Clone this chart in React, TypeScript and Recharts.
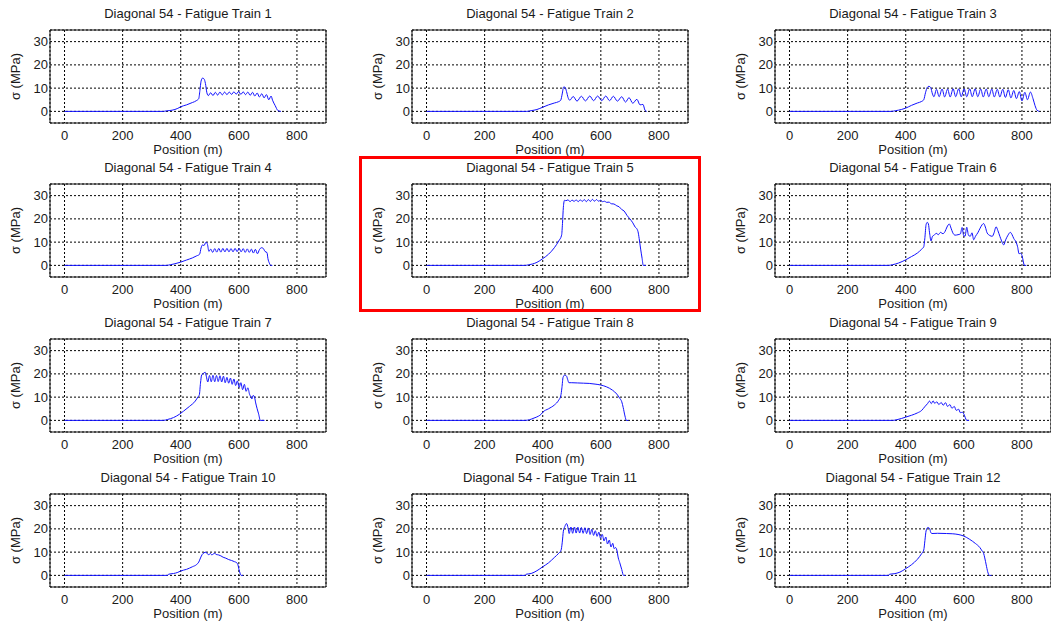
import React from 'react';
import { LineChart, Line, XAxis, YAxis, CartesianGrid, ReferenceArea } from 'recharts';

const FONT = '"Liberation Sans", Arial, sans-serif';
const TEXT = '#1a1a1a';
const FS = 13;

const xTicks = [0, 200, 400, 600, 800];
const yTicks = [0, 10, 20, 30];
const xDomain: [number, number] = [-50, 900];
const yDomain: [number, number] = [-5, 35];

const titles = [
  'Diagonal 54 - Fatigue Train 1',
  'Diagonal 54 - Fatigue Train 2',
  'Diagonal 54 - Fatigue Train 3',
  'Diagonal 54 - Fatigue Train 4',
  'Diagonal 54 - Fatigue Train 5',
  'Diagonal 54 - Fatigue Train 6',
  'Diagonal 54 - Fatigue Train 7',
  'Diagonal 54 - Fatigue Train 8',
  'Diagonal 54 - Fatigue Train 9',
  'Diagonal 54 - Fatigue Train 10',
  'Diagonal 54 - Fatigue Train 11',
  'Diagonal 54 - Fatigue Train 12',
];

// [position (m), stress (MPa)]
const train1: [number, number][] = [
  [0, 0], [340, 0], [350, 0.2], [370, 0.5], [390, 1.3], [400, 2], [420, 2.8], [440, 3.8], [455, 4.7], [462, 5.5],
  [466, 9], [470, 13], [475, 14.3], [480, 14], [485, 12], [490, 8], [495, 6.8],
  [503, 8.0], [511, 6.8], [519, 8.2], [527, 7.0], [535, 8.3], [543, 7.1], [551, 8.3], [559, 7.2], [567, 8.3], [575, 7.3],
  [583, 8.4], [591, 7.4], [599, 8.5], [607, 7.3], [615, 8.4], [623, 7.2], [631, 8.3], [639, 6.9], [647, 8.2], [655, 6.6],
  [663, 7.9], [671, 6.2], [679, 7.6], [687, 5.8], [695, 7.2], [703, 5.0], [711, 6.6], [716, 4.8], [725, 2.5], [735, 0.3], [745, 0],
];

const train2: [number, number][] = [
  [0, 0], [345, 0], [360, 0.3], [380, 0.8], [400, 1.8], [420, 2.8], [440, 3.6], [455, 4.2], [462, 4.8], [467, 7.5],
  [472, 10.5], [477, 10.3], [482, 8.5], [487, 6], [493, 4.8], [505, 6.4], [518, 4.4], [533, 6.5], [547, 4.5], [562, 6.6],
  [575, 4.6], [589, 6.6], [603, 4.6], [617, 6.6], [630, 4.6], [643, 6.5], [657, 4.4], [672, 6.3], [685, 4.0], [697, 5.9],
  [710, 3.5], [724, 5.2], [735, 2.8], [745, 3.0], [752, 0.5], [758, 0],
];

const train3: [number, number][] = [
  [0, 0], [350, 0], [365, 0.3], [385, 0.8], [400, 1.4], [420, 2.6], [440, 3.6], [455, 4.3], [462, 5], [468, 8],
  [474, 10.3], [480, 10.8], [486, 10.2], [492, 7.5], [497, 6.3],
  [506, 9.5], [515, 6.3], [525, 9.6], [534, 6.2], [544, 9.6], [553, 6.2], [563, 9.7], [572, 6.3], [582, 9.7], [591, 6.3],
  [601, 9.7], [610, 6.3], [620, 9.7], [629, 6.3], [639, 9.7], [648, 6.3], [658, 9.6], [667, 6.2], [677, 9.6], [686, 6.3],
  [696, 9.6], [705, 6.2], [715, 9.5], [724, 6.2], [734, 9.5], [743, 6.0], [753, 9.3], [762, 5.8], [772, 9.0], [781, 5.5],
  [791, 8.5], [800, 4.5], [810, 8.2], [819, 5.0], [829, 8.3], [838, 5.5], [845, 2.5], [852, 0.5], [860, 0],
];

const train4: [number, number][] = [
  [0, 0], [350, 0], [365, 0.3], [380, 0.7], [400, 1.4], [420, 2.3], [440, 3.2], [455, 4.1], [465, 4.8], [470, 7.5],
  [475, 8.8], [480, 8.5], [487, 10], [492, 9], [497, 6], [503, 7], [510, 5.6], [517, 7.2], [524, 5.7], [531, 7.3],
  [538, 5.7], [545, 7.3], [552, 5.8], [559, 7.3], [566, 5.8], [573, 7.2], [580, 5.8], [587, 7.3], [594, 5.9], [601, 7.3],
  [608, 5.8], [615, 7.2], [622, 5.6], [629, 7.1], [636, 5.6], [643, 7.0], [650, 5.3], [657, 6.9], [664, 5.0], [671, 6.8],
  [678, 7.6], [684, 7.3], [690, 6], [697, 5.5], [700, 3], [705, 1], [710, 0], [715, 0],
];

const train5: [number, number][] = [
  [0, 0], [340, 0], [350, 0.2], [365, 0.6], [380, 1.3], [400, 2.9], [420, 4.8], [440, 7.6], [455, 10.5], [465, 13],
  [468, 18], [471, 25], [475, 28], [480, 27.8], [487, 28.2], [494, 27.4], [501, 28.1], [508, 27.5], [515, 28.2], [522, 27.4],
  [529, 28.2], [536, 27.5], [543, 28.3], [550, 27.4], [557, 28.3], [564, 27.5], [571, 28.4], [578, 27.6], [585, 28.3], [592, 27.6],
  [599, 28.0], [606, 27.4], [613, 27.6], [620, 27.1], [628, 27.2], [636, 26.5], [645, 26.4], [655, 25.6], [663, 25.2], [672, 24.0],
  [680, 23.4], [690, 21.5], [700, 20.0], [710, 18.3], [718, 16.5], [725, 15.5], [728, 14.5], [732, 11.5], [737, 7], [742, 3],
  [746, 0], [755, 0],
];

const train6: [number, number][] = [
  [0, 0], [340, 0], [355, 0.3], [375, 1], [400, 2.4], [420, 3.8], [440, 5.3], [455, 7], [462, 8], [466, 12],
  [470, 17.5], [474, 18.5], [478, 17.8], [482, 14], [487, 10.5], [492, 12.5], [498, 13], [505, 13.8], [512, 13.2], [520, 14.2],
  [528, 13.6], [535, 14.5], [542, 16.5], [550, 17.8], [556, 16], [562, 14], [570, 13], [580, 13.2], [588, 13.5], [594, 16.3],
  [599, 13], [604, 12.5], [610, 16.4], [616, 13], [622, 12.5], [628, 14], [634, 11], [640, 12.5], [648, 14], [656, 16],
  [663, 17.5], [668, 18], [674, 16.5], [680, 14], [690, 12.8], [698, 12.5], [704, 14], [711, 16.6], [717, 15], [724, 12.5],
  [730, 10.5], [737, 8.8], [744, 11], [752, 13], [760, 14.2], [766, 13.2], [772, 11.5], [780, 10], [785, 8], [790, 5],
  [795, 5.2], [800, 4.3], [805, 1.5], [808, 0], [815, 0],
];

const train7: [number, number][] = [
  [0, 0], [340, 0], [355, 0.4], [375, 1.2], [395, 2.6], [410, 4], [430, 6], [450, 8.3], [460, 10.2], [464, 11],
  [468, 16], [472, 19.5], [478, 20.2], [484, 20.7], [488, 19], [493, 16.5], [499, 19.3], [505, 16.6], [511, 19.4], [517, 16.6],
  [523, 19.3], [529, 16.7], [535, 19.2], [541, 16.5], [547, 19], [553, 16.2], [559, 18.5], [565, 16], [571, 18.2], [577, 15.5],
  [583, 17.8], [589, 15], [595, 17], [601, 14.2], [607, 16.2], [613, 13.2], [619, 15.5], [625, 12.5], [631, 14], [637, 11.2],
  [641, 10.2], [645, 9.2], [649, 10.7], [653, 10.4], [658, 7.5], [663, 5], [668, 2.8], [674, 0], [688, 0],
];

const train8: [number, number][] = [
  [0, 0], [340, 0], [355, 0.3], [370, 1], [385, 1.8], [395, 2.7], [400, 3.5], [420, 5], [440, 6.6], [455, 8.7],
  [462, 10.5], [466, 14], [470, 18.5], [476, 19.5], [482, 19], [486, 17.5], [490, 16.2], [500, 16.2], [520, 16.1], [540, 16.0],
  [560, 15.9], [580, 15.6], [600, 15.2], [620, 14.4], [640, 13], [655, 11.3], [665, 9.5], [672, 8], [677, 5.5], [683, 1.9],
  [688, 0], [695, 0],
];

const train9: [number, number][] = [
  [0, 0], [355, 0], [370, 0.3], [385, 0.8], [400, 1.4], [420, 2.2], [440, 3.2], [455, 4.3], [465, 5.8], [475, 7.2],
  [482, 8.3], [488, 7.2], [494, 8.4], [500, 7.3], [507, 8.0], [514, 6.8], [522, 7.7], [529, 6.5], [537, 7.6], [544, 6.0],
  [552, 6.8], [559, 5.2], [567, 6.0], [574, 4.3], [582, 4.8], [588, 3.3], [595, 3.5], [602, 2.2], [607, 0.5], [610, 0],
  [618, 0],
];

const train10: [number, number][] = [
  [0, 0], [355, 0], [358, 0.5], [375, 0.8], [390, 1.3], [400, 1.9], [420, 2.6], [440, 3.7], [455, 4.7], [462, 5.7],
  [468, 7.5], [474, 9], [480, 9.7], [487, 10], [492, 9.2], [497, 8.9], [502, 9.4], [507, 8.8], [512, 9.2], [517, 9.5],
  [522, 9.0], [530, 8.8], [538, 8.4], [546, 7.8], [555, 7.4], [565, 6.8], [575, 6.4], [585, 5.9], [593, 5.4], [597, 4.5],
  [600, 2.8], [604, 1], [608, 0], [614, 0],
];

const train11: [number, number][] = [
  [0, 0], [340, 0], [343, 0.5], [360, 0.8], [380, 2], [400, 3.7], [420, 5.4], [440, 7.7], [455, 9.5], [463, 10.8],
  [467, 14], [471, 19], [476, 21], [482, 22.3], [487, 20.5], [491, 18], [497, 20.8], [503, 18.1], [509, 20.8], [515, 18.2],
  [521, 20.7], [527, 18.2], [533, 20.6], [539, 18.1], [545, 20.5], [551, 18], [557, 20.4], [563, 17.6], [569, 19.8], [575, 17.2],
  [581, 19.2], [587, 16.8], [593, 18.6], [599, 16], [605, 17.6], [611, 14.8], [617, 16.5], [623, 13.5], [629, 15.2], [635, 12.2],
  [641, 13.8], [646, 11.5], [650, 12], [655, 10.9], [660, 7.5], [665, 5.5], [672, 2.5], [678, 0], [684, 0],
];

const train12: [number, number][] = [
  [0, 0], [340, 0], [345, 0.5], [360, 0.7], [380, 1.4], [400, 2.9], [420, 4.6], [440, 6.9], [455, 9.4], [462, 10.9],
  [466, 15], [470, 19.1], [476, 20.6], [482, 20.2], [486, 18.5], [490, 18], [510, 18.1], [540, 18], [560, 17.9], [580, 17.6],
  [600, 16.9], [620, 15.5], [640, 13.7], [655, 12], [663, 10.5], [668, 9.5], [672, 7.5], [677, 4.5], [682, 1.6], [688, 0],
  [695, 0],
];

const trains = [train1, train2, train3, train4, train5, train6, train7, train8, train9, train10, train11, train12];

const colBoxLeft = [50, 412, 775];
const rowBoxTop = [30, 184, 339, 494];

const CHART_W = 330;
const CHART_H = 166;

function Panel({ title, points, left, top }: { title: string; points: [number, number][]; left: number; top: number }) {
  const data = points.map(([x, y]) => ({ x, y }));
  return (
    <div style={{ position: 'absolute', left, top, width: CHART_W, height: CHART_H }}>
      <div
        style={{
          position: 'absolute',
          left: 50,
          width: 276,
          top: 7,
          textAlign: 'center',
          fontSize: FS,
          lineHeight: `${FS}px`,
          color: TEXT,
          fontFamily: FONT,
          whiteSpace: 'nowrap',
        }}
      >
        {title}
      </div>
      <LineChart width={CHART_W} height={CHART_H} data={data} margin={{ top: 30, right: 4, bottom: 11, left: 0 }}>
        <CartesianGrid stroke="#000" strokeDasharray="2 2" strokeWidth={1} />
        <XAxis
          type="number"
          dataKey="x"
          domain={xDomain}
          ticks={xTicks}
          interval={0}
          allowDataOverflow
          height={32}
          tickLine={false}
          axisLine={false}
          tickSize={0}
          tickMargin={8}
          tick={{ fontSize: FS, fill: TEXT, fontFamily: FONT }}
          label={{ value: 'Position (m)', position: 'insideBottom', offset: 1, fontSize: FS, fill: TEXT, fontFamily: FONT }}
        />
        <YAxis
          type="number"
          domain={yDomain}
          ticks={yTicks}
          interval={0}
          allowDataOverflow
          width={50}
          tickLine={false}
          axisLine={false}
          tickSize={0}
          tickMargin={2}
          tick={{ fontSize: FS, fill: TEXT, fontFamily: FONT }}
          label={{
            value: 'σ (MPa)',
            angle: -90,
            position: 'insideLeft',
            offset: 15,
            fontSize: FS,
            fill: TEXT,
            fontFamily: FONT,
            style: { textAnchor: 'middle' },
          }}
        />
        <ReferenceArea x1={xDomain[0]} x2={xDomain[1]} y1={yDomain[0]} y2={yDomain[1]} fill="none" fillOpacity={0} stroke="#111" strokeWidth={1} />
        <Line type="monotone" dataKey="y" stroke="#1010ff" strokeWidth={1} dot={false} activeDot={false} isAnimationActive={false} />
      </LineChart>
    </div>
  );
}

export default function App() {
  return (
    <div style={{ position: 'absolute', left: 0, top: 0, width: 1051, height: 625, overflow: 'hidden', background: '#fff' }}>
      {trains.map((pts, i) => {
        const r = Math.floor(i / 3);
        const c = i % 3;
        return <Panel key={i} title={titles[i]} points={pts} left={colBoxLeft[c] - 50} top={rowBoxTop[r] - 30} />;
      })}
      <div
        style={{
          position: 'absolute',
          left: 359,
          top: 156,
          width: 342,
          height: 156,
          border: '3px solid #ff0000',
          boxSizing: 'border-box',
        }}
      />
    </div>
  );
}
